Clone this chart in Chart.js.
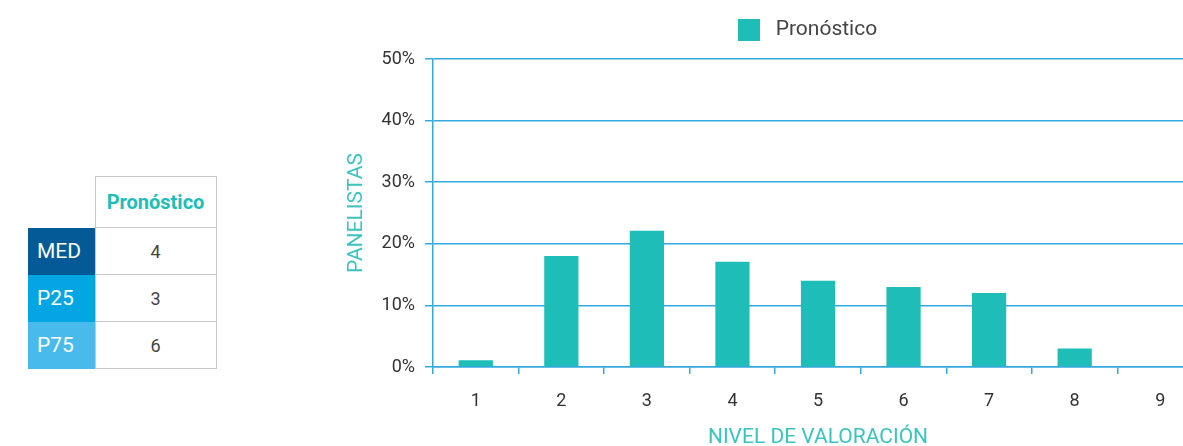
<!DOCTYPE html>
<html>
<head>
<meta charset="utf-8">
<script src="https://cdn.jsdelivr.net/npm/chart.js@4"></script>
<style>
  html, body { margin: 0; padding: 0; background: #fff; overflow: hidden; width: 1183px; height: 446px; }
  body { position: relative; font-family: Roboto, "Noto Sans", sans-serif; }
  #stats { position: absolute; left: 28px; top: 176px; border-collapse: collapse; }
  #stats td { padding: 0; height: 46px; text-align: center; border: 1px solid #c9c9cc; font-size: 18px; color: #444; }
  #stats td.blank { border: none; }
  #stats td.head { height: 50px; width: 120px; color: #20bdb8; font-weight: bold; font-size: 20px; }
  #stats td.lab { width: 67px; color: #fff; font-size: 21px; text-align: left; padding-left: 9px; box-sizing: border-box; border: none; }
  #wrap { position: absolute; left: 330px; top: 0; width: 880px; height: 450px; }
</style>
</head>
<body>
<table id="stats"></table>
<div id="wrap"><canvas id="chart-1"></canvas></div>
<script>
var categories = ['1', '2', '3', '4', '5', '6', '7', '8', '9'];
var pronostico = [1.1, 18, 22.1, 17.1, 14, 13, 12, 3, 0];
var yTicks = [0, 10, 20, 30, 40, 50];

var statLabels = ['MED', 'P25', 'P75'];
var statValues = [4, 3, 6];
var statColors = ['#045a97', '#03a5e2', '#48bbec'];

// table on the left
var table = document.getElementById('stats');
var html = '<tr><td class="blank"></td><td class="head">Pronóstico</td></tr>';
for (var i = 0; i < statLabels.length; i++) {
    html += '<tr><td class="lab" style="background:' + statColors[i] + '">' + statLabels[i] +
        '</td><td>' + statValues[i] + '</td></tr>';
}
table.innerHTML = html;

var blue = '#35a9de';
var teal = '#3cc3bf';

// extra space under the legend
var legendGap = {
    id: 'legendGap',
    beforeInit: function (chart) {
        var fit = chart.legend.fit;
        chart.legend.fit = function () {
            fit.bind(chart.legend)();
            this.height += 8;
        };
    }
};

var config_1 = {
    type: 'bar',
    data: {
        labels: categories,
        datasets: [{
            label: 'Pronóstico',
            data: pronostico,
            backgroundColor: '#1fbdb8',
            barPercentage: 0.8,
            categoryPercentage: 0.5,
        }],
    },
    plugins: [legendGap],
    options: {
        responsive: true,
        maintainAspectRatio: false,
        animation: false,
        layout: { padding: { top: 5, right: 7, bottom: 0, left: 0 } },
        plugins: {
            legend: {
                fullSize: false,
                labels: {
                    boxWidth: 22,
                    boxHeight: 22,
                    padding: 14,
                    color: '#444',
                    font: { family: 'Roboto', size: 21 },
                    generateLabels: function (chart) {
                        var items = Chart.defaults.plugins.legend.labels.generateLabels(chart);
                        items.forEach(function (it) { it.text = ' ' + it.text + '    '; });
                        return items;
                    }
                }
            },
            tooltip: { enabled: false },
        },
        scales: {
            x: {
                afterFit: function (axis) { axis.height = 83; },
                grid: { drawOnChartArea: false, color: blue, lineWidth: 1.5, tickLength: 7 },
                border: { color: blue, width: 1.5 },
                ticks: { color: '#333', padding: 17, font: { family: 'Roboto', size: 18 } },
                title: {
                    display: true,
                    text: 'NIVEL DE VALORACIÓN',
                    color: teal,
                    padding: { top: 6, bottom: 0 },
                    font: { family: 'Roboto', size: 21 },
                },
            },
            y: {
                min: 0,
                max: 50,
                afterFit: function (axis) { axis.width = 103; },
                afterBuildTicks: function (axis) {
                    axis.ticks = yTicks.map(function (v) { return { value: v }; });
                },
                grid: { color: blue, lineWidth: 1.5, tickLength: 8 },
                border: { color: blue, width: 1.5 },
                ticks: {
                    color: '#333',
                    padding: 10,
                    font: { family: 'Roboto', size: 18 },
                    callback: function (v) { return v + '%'; },
                },
                title: {
                    display: true,
                    text: 'PANELISTAS',
                    color: teal,
                    padding: { top: 14, bottom: 0 },
                    font: { family: 'Roboto', size: 21 },
                },
            },
        },
    },
};

var Chart_1 = document.getElementById('chart-1').getContext('2d');
new Chart(Chart_1, config_1);
</script>
</body>
</html>
